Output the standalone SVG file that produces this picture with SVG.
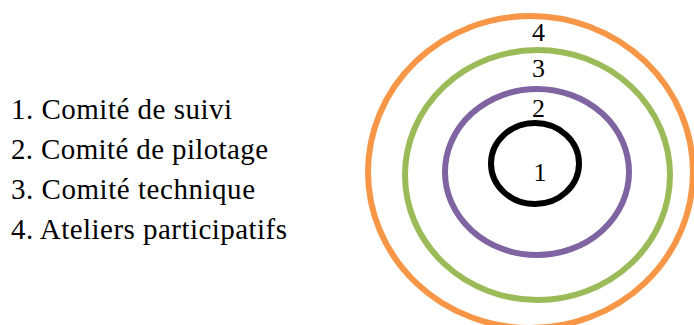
<svg xmlns="http://www.w3.org/2000/svg" width="694" height="325" viewBox="0 0 694 325">
<style>
.ring{fill:none;stroke-width:6}
.t{font-family:'Liberation Serif','DejaVu Serif','Times New Roman',serif;fill:#000}
.list{font-size:29px}
.num{font-size:26px;text-anchor:middle}
</style>
<rect width="694" height="325" fill="#fff"/>
<g id="legend">
<text class="t list" x="11" y="119" textLength="221" lengthAdjust="spacing">1. Comité de suivi</text>
<text class="t list" x="11" y="159" textLength="257" lengthAdjust="spacing">2. Comité de pilotage</text>
<text class="t list" x="11" y="199" textLength="244" lengthAdjust="spacing">3. Comité technique</text>
<text class="t list" x="11" y="239" textLength="276" lengthAdjust="spacing">4. Ateliers participatifs</text>
</g>
<g id="ring4">
<ellipse class="ring" cx="530.5" cy="172" rx="162.5" ry="156" stroke="#F79646"/>
<text class="t num" x="538.5" y="41">4</text>
</g>
<g id="ring3">
<ellipse class="ring" cx="537.5" cy="175" rx="132.5" ry="125" stroke="#9BBB59"/>
<text class="t num" x="538.5" y="77">3</text>
</g>
<g id="ring2">
<ellipse class="ring" cx="537" cy="172" rx="92" ry="83" stroke="#8064A2"/>
<text class="t num" x="538.5" y="117">2</text>
</g>
<g id="ring1">
<ellipse class="ring" cx="535" cy="163.5" rx="44" ry="40.5" stroke="#000" stroke-width="6.5"/>
<text class="t num" x="540" y="181">1</text>
</g>
<g id="connectors"/>
</svg>
